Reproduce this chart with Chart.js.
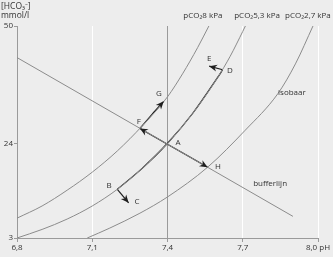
<!DOCTYPE html>
<html>
<head>
<meta charset="utf-8">
<script src="https://cdn.jsdelivr.net/npm/chart.js@4"></script>
<style>
  html, body { margin: 0; padding: 0; background: #ededed; }
  #wrap { width: 333px; height: 257px; }
</style>
</head>
<body>
<div id="wrap"><canvas id="bloedgasChart"></canvas></div>
<script>
// isobaren (pH, [HCO3-])
const pHIso8 = [6.80, 6.90, 7.00, 7.10, 7.20, 7.30, 7.40, 7.46, 7.52, 7.565];
const hcoIso8 = [7.4, 10.1, 13.6, 17.6, 22.3, 27.9, 34.3, 39.4, 45.2, 50.0];

const pHIso53 = [6.80, 6.90, 7.00, 7.10, 7.20, 7.30, 7.40, 7.50, 7.60, 7.65, 7.70, 7.714];
const hcoIso53 = [3.0, 4.9, 7.2, 10.1, 13.8, 18.5, 24.0, 30.6, 38.6, 43.3, 48.8, 50.4];

const pHIso27 = [7.08, 7.17, 7.29, 7.40, 7.56, 7.71, 7.84, 7.91, 7.98];
const hcoIso27 = [3.0, 5.2, 8.5, 12.1, 18.7, 26.9, 35.0, 41.6, 50.0];

// bufferlijn
const pHBuffer = [6.80, 7.90];
const hcoBuffer = [43.0, 7.8];

// pijlen
const pHBD = [7.20, 7.30, 7.40, 7.50, 7.60, 7.62];
const hcoBD = [13.8, 18.5, 24.0, 30.6, 38.6, 40.3];
const pHFG = [7.29, 7.34, 7.385];
const hcoFG = [27.3, 30.5, 33.3];
const pHFH = [7.29, 7.40, 7.56];
const hcoFH = [27.3, 23.8, 18.7];
const pHBC = [7.20, 7.245];
const hcoBC = [13.8, 10.8];
const pHDE = [7.62, 7.566];
const hcoDE = [40.3, 41.1];

const xTicks = [6.8, 7.1, 7.4, 7.7, 8.0];
const xTickLabels = ['6,8', '7,1', '7,4', '7,7', '8,0 pH'];
const yTicks = [3, 24, 50];

const pointLabels = [
    { text: 'A', x: 7.442, y: 24.1 },
    { text: 'B', x: 7.167, y: 14.5 },
    { text: 'C', x: 7.278, y: 11.0 },
    { text: 'D', x: 7.649, y: 40.0 },
    { text: 'E', x: 7.566, y: 42.7 },
    { text: 'F', x: 7.286, y: 28.7 },
    { text: 'G', x: 7.366, y: 34.9 },
    { text: 'H', x: 7.601, y: 18.7 },
    { text: 'isobaar', x: 7.896, y: 35.2 },
    { text: 'bufferlijn', x: 7.809, y: 15.0 },
];
const topLabels = [
    { text: 'pCO₂8 kPa', x: 7.541 },
    { text: 'pCO₂5,3 kPa', x: 7.757 },
    { text: 'pCO₂2,7 kPa', x: 7.960 },
];

const FONT = "'Open Sans', 'Noto Sans', sans-serif";
const grey = '#8c8c8c';
const dark = '#1e1e1e';

function toPoints(xs, ys) {
    return xs.map((x, i) => ({ x: x, y: ys[i] }));
}

function curve(xs, ys, color, width) {
    return {
        data: toPoints(xs, ys),
        borderColor: color,
        borderWidth: width,
        pointRadius: 0,
        tension: 0.4,
        cubicInterpolationMode: 'monotone',
        fill: false,
    };
}

const achtergrond = {
    id: 'achtergrond',
    beforeDraw(chart) {
        const ctx = chart.ctx;
        ctx.save();
        ctx.fillStyle = '#ededed';
        ctx.fillRect(0, 0, chart.width, chart.height);
        ctx.restore();
    }
};

function drawHead(ctx, tip, from) {
    const ang = Math.atan2(tip.y - from.y, tip.x - from.x);
    const len = 8, half = 3.5;
    ctx.beginPath();
    ctx.moveTo(tip.x, tip.y);
    ctx.lineTo(tip.x - len * Math.cos(ang) + half * Math.sin(ang), tip.y - len * Math.sin(ang) - half * Math.cos(ang));
    ctx.lineTo(tip.x - (len - 2.5) * Math.cos(ang), tip.y - (len - 2.5) * Math.sin(ang));
    ctx.lineTo(tip.x - len * Math.cos(ang) - half * Math.sin(ang), tip.y - len * Math.sin(ang) + half * Math.cos(ang));
    ctx.closePath();
    ctx.fill();
}

const pijlpunten = {
    id: 'pijlpunten',
    afterDatasetsDraw(chart) {
        const ctx = chart.ctx;
        ctx.save();
        ctx.fillStyle = dark;
        chart.data.datasets.forEach((ds, i) => {
            const pts = chart.getDatasetMeta(i).data;
            if (ds.arrowEnd) drawHead(ctx, pts[pts.length - 1], pts[pts.length - 2]);
            if (ds.arrowStart) drawHead(ctx, pts[0], pts[1]);
        });
        ctx.restore();
    }
};

const teksten = {
    id: 'teksten',
    afterDraw(chart) {
        const ctx = chart.ctx;
        const xs = chart.scales.x, ys = chart.scales.y;
        ctx.save();
        ctx.fillStyle = '#333';
        ctx.textBaseline = 'middle';
        ctx.textAlign = 'center';
        ctx.font = '8px ' + FONT;
        pointLabels.forEach(l => {
            ctx.fillText(l.text, xs.getPixelForValue(l.x), ys.getPixelForValue(l.y));
        });
        ctx.font = '8px ' + FONT;
        topLabels.forEach(l => {
            ctx.fillText(l.text, xs.getPixelForValue(l.x), chart.chartArea.top - 10);
        });
        ctx.textAlign = 'left';
        ctx.font = '8.5px ' + FONT;
        ctx.fillText('[HCO₃⁻]', 1, 7);
        ctx.fillText('mmol/l', 1, 16);
        ctx.restore();
    }
};

const datasets = [
    curve(pHIso8, hcoIso8, grey, 1),
    curve(pHIso53, hcoIso53, grey, 1),
    curve(pHIso27, hcoIso27, grey, 1),
    curve(pHBuffer, hcoBuffer, grey, 1),
    curve(pHBD, hcoBD, dark, 1.2),
    Object.assign(curve(pHFG, hcoFG, dark, 1.2), { arrowEnd: true }),
    Object.assign(curve(pHFH, hcoFH, dark, 1.2), { arrowEnd: true, arrowStart: true, tension: 0 }),
    Object.assign(curve(pHBC, hcoBC, dark, 1.2), { arrowEnd: true }),
    Object.assign(curve(pHDE, hcoDE, dark, 1.2), { arrowEnd: true }),
];

const ctx = document.getElementById('bloedgasChart').getContext('2d');
const bloedgasChart = new Chart(ctx, {
    type: 'line',
    data: { datasets: datasets },
    options: {
        responsive: true,
        maintainAspectRatio: false,
        animation: false,
        layout: { padding: { top: 26, right: 15, left: 0, bottom: 0 } },
        plugins: {
            legend: { display: false },
            tooltip: { enabled: false },
        },
        scales: {
            x: {
                type: 'linear',
                min: 6.8,
                max: 8.0,
                afterBuildTicks: s => { s.ticks = xTicks.map(v => ({ value: v })); },
                afterFit: s => { s.height = 19; },
                ticks: {
                    callback: (v) => xTickLabels[xTicks.indexOf(v)],
                    font: { family: FONT, size: 8 },
                    color: '#333',
                    padding: 1,
                    maxRotation: 0,
                    autoSkip: false,
                },
                grid: {
                    color: c => (c.tick && c.tick.value === 7.4) ? '#9a9a9a' : '#ffffff',
                    lineWidth: 1,
                    tickLength: 4,
                    tickColor: '#9a9a9a',
                },
                border: { color: '#9a9a9a' },
            },
            y: {
                type: 'linear',
                min: 3,
                max: 50,
                afterBuildTicks: s => { s.ticks = yTicks.map(v => ({ value: v })); },
                afterFit: s => { s.width = 17; },
                ticks: {
                    font: { family: FONT, size: 8 },
                    color: '#333',
                    padding: 1,
                    autoSkip: false,
                },
                grid: {
                    drawOnChartArea: false,
                    tickLength: 3,
                    tickColor: '#9a9a9a',
                },
                border: { color: '#9a9a9a' },
            },
        },
    },
    plugins: [achtergrond, pijlpunten, teksten],
});
</script>
</body>
</html>
